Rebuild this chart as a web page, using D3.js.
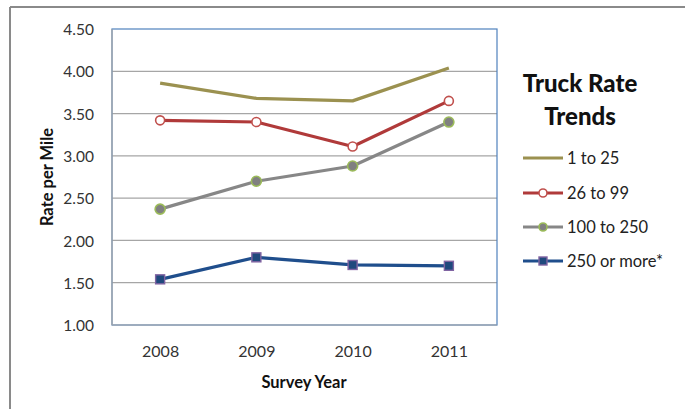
<!DOCTYPE html>
<html>
<head>
<meta charset="utf-8">
<script src="https://cdn.jsdelivr.net/npm/d3@7"></script>
<style>
  html, body { margin: 0; padding: 0; background: #fff; }
  svg { display: block; }
  text { font-family: Lato, "Open Sans", sans-serif; }
</style>
</head>
<body>
<svg id="chart" width="685" height="409"></svg>
<script>
// Survey years and rate per mile by fleet size
const years = ["2008", "2009", "2010", "2011"];
const seriesNames = ["1 to 25", "26 to 99", "100 to 250", "250 or more*"];
const rate1to25 = [3.86, 3.68, 3.65, 4.04];
const rate26to99 = [3.42, 3.40, 3.11, 3.65];
const rate100to250 = [2.37, 2.70, 2.88, 3.40];
const rate250plus = [1.54, 1.80, 1.71, 1.70];
const yTicks = [1.0, 1.5, 2.0, 2.5, 3.0, 3.5, 4.0, 4.5];

const styles = [
  { color: "#9B9150", marker: null },
  { color: "#B03A3A", marker: "circle", fill: "#ffffff", stroke: "#C0504D" },
  { color: "#878787", marker: "circle", fill: "#808080", stroke: "#9BBB59" },
  { color: "#1F4E8C", marker: "square", fill: "#1F497D", stroke: "#8064A2" }
];
const seriesValues = [rate1to25, rate26to99, rate100to250, rate250plus];

const svg = d3.select("#chart");

// outer frame
svg.append("line").attr("x1", 10).attr("x2", 685).attr("y1", 7).attr("y2", 7)
  .attr("stroke", "#8a8a8a").attr("stroke-width", 2);
svg.append("line").attr("x1", 10).attr("x2", 10).attr("y1", 7).attr("y2", 409)
  .attr("stroke", "#8a8a8a").attr("stroke-width", 2);

const plot = { left: 112, right: 497, top: 29, bottom: 325 };

const x = d3.scalePoint().domain(years).range([plot.left, plot.right]).padding(0.5);
const y = d3.scaleLinear().domain([1.0, 4.5]).range([plot.bottom, plot.top]);

// gridlines
svg.append("g").selectAll("line").data(yTicks.slice(1, -1)).join("line")
  .attr("x1", plot.left).attr("x2", plot.right)
  .attr("y1", d => y(d)).attr("y2", d => y(d))
  .attr("stroke", "#a6a6a6").attr("stroke-width", 1.2);

// plot border
svg.append("rect")
  .attr("x", plot.left).attr("y", plot.top)
  .attr("width", plot.right - plot.left).attr("height", plot.bottom - plot.top)
  .attr("fill", "none").attr("stroke", "#4F81BD").attr("stroke-width", 1.2);
svg.append("line").attr("x1", plot.left).attr("x2", plot.left)
  .attr("y1", plot.top).attr("y2", plot.bottom).attr("stroke", "#a6a6a6").attr("stroke-width", 1.2);
svg.append("line").attr("x1", plot.left).attr("x2", plot.right)
  .attr("y1", plot.bottom).attr("y2", plot.bottom).attr("stroke", "#a6a6a6").attr("stroke-width", 1.2);

// y axis
const yAxis = d3.axisLeft(y).tickValues(yTicks).tickFormat(d3.format(".2f")).tickSize(0).tickPadding(18);
const yg = svg.append("g").attr("transform", `translate(${plot.left},0)`).call(yAxis);
yg.select(".domain").remove();
yg.selectAll("text").attr("font-size", 15.5).attr("fill", "#333").attr("dy", "0.36em");

// x axis
const xAxis = d3.axisBottom(x).tickSize(0).tickPadding(21);
const xg = svg.append("g").attr("transform", `translate(0,${plot.bottom})`).call(xAxis);
xg.select(".domain").remove();
xg.selectAll("text").attr("font-size", 16).attr("fill", "#333");

// axis titles
svg.append("text").attr("x", 304).attr("y", 388).attr("text-anchor", "middle")
  .attr("font-size", 16.5).attr("font-weight", "bold").attr("fill", "#111").text("Survey Year");
svg.append("text").attr("transform", "translate(53,177) rotate(-90)").attr("text-anchor", "middle")
  .attr("font-size", 16.5).attr("font-weight", "bold").attr("fill", "#111").text("Rate per Mile");

// series lines and markers
const line = d3.line().x((d, i) => x(years[i])).y(d => y(d));

function drawMarker(g, st, cx, cy, r) {
  if (st.marker === "circle") {
    g.append("circle").attr("cx", cx).attr("cy", cy).attr("r", r)
      .attr("fill", st.fill).attr("stroke", st.stroke).attr("stroke-width", 1.6);
  } else if (st.marker === "square") {
    g.append("rect").attr("x", cx - r).attr("y", cy - r).attr("width", 2 * r).attr("height", 2 * r)
      .attr("fill", st.fill).attr("stroke", st.stroke).attr("stroke-width", 1.4);
  }
}

seriesValues.forEach((vals, k) => {
  const st = styles[k];
  const g = svg.append("g");
  g.append("path").datum(vals).attr("d", line)
    .attr("fill", "none").attr("stroke", st.color).attr("stroke-width", 3.2)
    .attr("stroke-linejoin", "round");
  vals.forEach((v, i) => {
    const r = st.marker === "square" ? 4.5 : (k === 2 ? 5 : 4.5);
    drawMarker(g, st, x(years[i]), y(v), r);
  });
});

// legend
const lg = svg.append("g");
lg.append("text").attr("x", 580).attr("y", 92).attr("text-anchor", "middle")
  .attr("font-size", 24).attr("font-weight", "900").attr("fill", "#111").text("Truck Rate");
lg.append("text").attr("x", 580).attr("y", 125).attr("text-anchor", "middle")
  .attr("font-size", 24).attr("font-weight", "900").attr("fill", "#111").text("Trends");

const legY = [158, 193, 227, 261];
seriesNames.forEach((name, k) => {
  const st = styles[k];
  const ly = legY[k];
  lg.append("line").attr("x1", 523).attr("x2", 563).attr("y1", ly).attr("y2", ly)
    .attr("stroke", st.color).attr("stroke-width", 3);
  drawMarker(lg, st, 543, ly, 4);
  lg.append("text").attr("x", 567).attr("y", ly).attr("dy", "0.36em")
    .attr("font-size", 16.5).attr("fill", "#222").text(name);
});
</script>
</body>
</html>
